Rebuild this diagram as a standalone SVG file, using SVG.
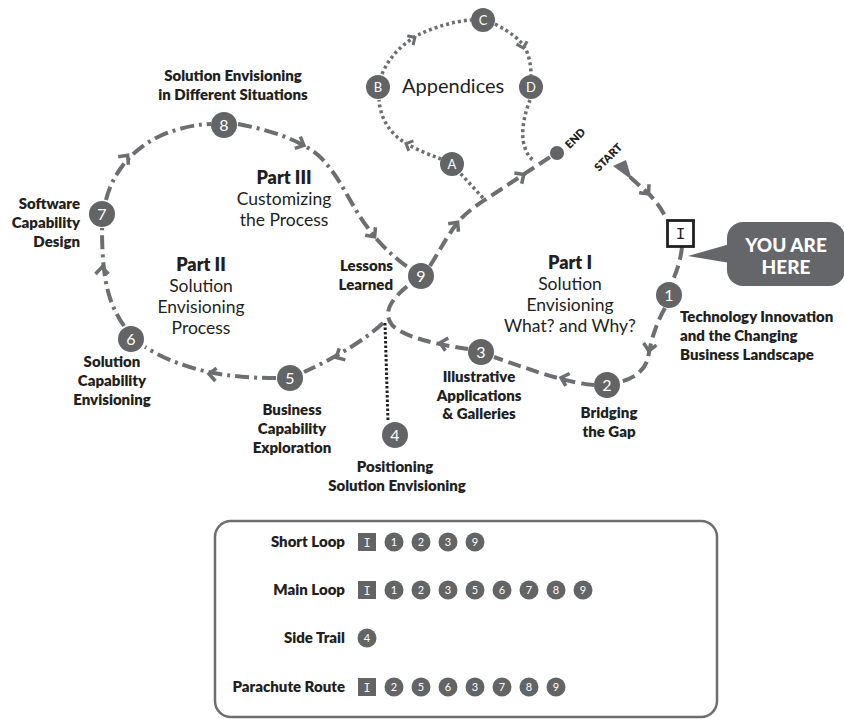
<svg xmlns="http://www.w3.org/2000/svg" xmlns:xlink="http://www.w3.org/1999/xlink" width="844" height="719" viewBox="0 0 844 719">
<style>
text{font-family:Lato,"Open Sans","Liberation Sans",sans-serif;fill:#231f20}
.lb{font-weight:800;font-size:15px}
.pt{font-weight:800;font-size:18px}
.pr{font-size:17.5px}
.num{font-size:16px;fill:#fff;text-anchor:middle}
.let{font-size:13px;fill:#fff;text-anchor:middle}
.lnum{font-size:11px;fill:#fff;text-anchor:middle}
.node{fill:#636466}
.dash{fill:none;stroke:#6d6e71;stroke-width:4;stroke-dasharray:13 6}
.dd{fill:none;stroke:#6d6e71;stroke-width:4;stroke-dasharray:14 5 3 5}
.dot{fill:none;stroke:#6d6e71;stroke-width:3.5;stroke-dasharray:3 3}
.vdot{fill:none;stroke:#231f20;stroke-width:3;stroke-dasharray:2.5 2}
.chev{fill:none;stroke:#6d6e71;stroke-width:3.5;stroke-linejoin:miter}
.chevs{fill:none;stroke:#6d6e71;stroke-width:3}
.mid{text-anchor:middle}
.end{text-anchor:end}
</style>
<defs>
<path id="chev" class="chev" d="M-6,-6.5 L1,0 L-6,6.5"/>
<path id="chevs" class="chevs" d="M-4.5,-5.5 L1,0 L-4.5,5.5"/>
</defs>

<g id="connectors">
  <path class="dash" d="M630,177 L648,193 Q660,205 667,220"/>
  <path class="dash" d="M682,247 Q680,265 672,282"/>
  <path class="dash" d="M665,308 C655,325 650,345 648,358 C645,370 635,378 620,382"/>
  <path class="dash" d="M594,385 C570,383 545,375 494,357"/>
  <path class="dash" d="M468,349 C440,345 405,338 392,325 C382,312 392,298 410,284"/>
  <path class="dash" d="M430,266 C440,250 447,236 458,222 C470,208 485,200 500,190 L550,157"/>
  <path class="dd" d="M383,323 C365,340 335,358 304,372"/>
  <path class="dd" d="M276,378 C240,378 190,375 145,347"/>
  <path class="dd" d="M124,326 C110,305 102,285 102,228"/>
  <path class="dd" d="M106,200 C112,175 130,150 160,136 C180,127 200,124 211,124"/>
  <path class="dd" d="M238,124 C270,130 300,140 318,155 C340,175 350,205 368,228 C380,245 395,258 409,268"/>
  <path class="vdot" d="M385,323 L388,421"/>
  <path class="dot" d="M483,198 L460,173"/>
  <path class="dot" d="M441,159 C425,153 405,145 395,135 C384,124 380,112 379,100"/>
  <path class="dot" d="M382,74 C390,55 405,42 420,34 C435,27 455,21 471,20"/>
  <path class="dot" d="M495,24 C510,32 522,40 527,52 C530,60 531,68 531,75"/>
  <path class="dot" d="M530,100 C524,115 520,135 525,148 C527,154 530,158 534,161"/>
  <polygon points="613,166 626,160 632,180" fill="#6d6e71"/>
  <use href="#chev" transform="translate(648,193) rotate(49)"/>
  <use href="#chev" transform="translate(649,350) rotate(100)"/>
  <use href="#chev" transform="translate(562,378) rotate(197)"/>
  <use href="#chev" transform="translate(441,343) rotate(193)"/>
  <use href="#chev" transform="translate(457,223) rotate(-52)"/>
  <use href="#chev" transform="translate(523,175) rotate(-34)"/>
  <use href="#chev" transform="translate(374,236) rotate(52)"/>
  <use href="#chev" transform="translate(303,145) rotate(25)"/>
  <use href="#chev" transform="translate(127,156) rotate(-52)"/>
  <use href="#chev" transform="translate(102,268) rotate(-90)"/>
  <use href="#chev" transform="translate(210,374) rotate(185)"/>
  <use href="#chev" transform="translate(337,357) rotate(152)"/>
  <use href="#chevs" transform="translate(407,144) rotate(-155)"/>
  <use href="#chevs" transform="translate(414,38) rotate(-32)"/>
  <use href="#chevs" transform="translate(523,47) rotate(75)"/>
</g>

<g id="start">
  <text style="font-weight:800;font-size:11px" text-anchor="middle" transform="translate(611,160) rotate(-45)">START</text>
</g>
<g id="end">
  <circle cx="557" cy="153" r="7" class="node"/>
  <text style="font-weight:800;font-size:11px" text-anchor="middle" transform="translate(578,141) rotate(-45)">END</text>
</g>

<g id="node-I">
  <rect x="667.5" y="220.5" width="26" height="26" fill="#fff" stroke="#231f20" stroke-width="2.8"/>
  <text x="680.5" y="239" style="font-family:'Liberation Mono',monospace;font-size:16px" text-anchor="middle">I</text>
</g>
<g id="you-are-here">
  <polygon points="688,256 730,244 730,263" fill="#656669"/>
  <rect x="727" y="222" width="118" height="64" rx="16" fill="#656669"/>
  <text x="786" y="252" class="mid" style="font-weight:900;font-size:19px;fill:#fff">YOU ARE</text>
  <text x="786" y="274" class="mid" style="font-weight:900;font-size:19px;fill:#fff">HERE</text>
</g>

<g id="node-1">
  <circle cx="669" cy="295" r="13" class="node"/>
  <text x="669" y="301" class="num">1</text>
  <text class="lb" x="680" y="322">Technology Innovation</text>
  <text class="lb" x="680" y="341">and the Changing</text>
  <text class="lb" x="680" y="360">Business Landscape</text>
</g>
<g id="node-2">
  <circle cx="607" cy="385" r="13" class="node"/>
  <text x="607" y="391" class="num">2</text>
  <text class="lb mid" x="609" y="418">Bridging</text>
  <text class="lb mid" x="609" y="437">the Gap</text>
</g>
<g id="node-3">
  <circle cx="481" cy="352" r="13" class="node"/>
  <text x="481" y="358" class="num">3</text>
  <text class="lb mid" x="479" y="382">Illustrative</text>
  <text class="lb mid" x="479" y="401">Applications</text>
  <text class="lb mid" x="479" y="419">&amp; Galleries</text>
</g>
<g id="node-4">
  <circle cx="395" cy="435" r="13" class="node"/>
  <text x="395" y="441" class="num">4</text>
  <text class="lb mid" x="395" y="472">Positioning</text>
  <text class="lb mid" x="397" y="491">Solution Envisioning</text>
</g>
<g id="node-5">
  <circle cx="290" cy="378" r="13" class="node"/>
  <text x="290" y="384" class="num">5</text>
  <text class="lb mid" x="292" y="415">Business</text>
  <text class="lb mid" x="292" y="434">Capability</text>
  <text class="lb mid" x="292" y="453">Exploration</text>
</g>
<g id="node-6">
  <circle cx="131" cy="339" r="13" class="node"/>
  <text x="131" y="345" class="num">6</text>
  <text class="lb mid" x="112" y="367">Solution</text>
  <text class="lb mid" x="112" y="386">Capability</text>
  <text class="lb mid" x="112" y="405">Envisioning</text>
</g>
<g id="node-7">
  <circle cx="102" cy="214" r="13" class="node"/>
  <text x="102" y="220" class="num">7</text>
  <text class="lb end" x="80" y="209">Software</text>
  <text class="lb end" x="80" y="228">Capability</text>
  <text class="lb end" x="80" y="247">Design</text>
</g>
<g id="node-8">
  <circle cx="224" cy="125" r="13" class="node"/>
  <text x="224" y="131" class="num">8</text>
  <text class="lb mid" x="233" y="81">Solution Envisioning</text>
  <text class="lb mid" x="233" y="100">in Different Situations</text>
</g>
<g id="node-9">
  <circle cx="421" cy="276" r="13" class="node"/>
  <text x="421" y="282" class="num">9</text>
  <text class="lb end" x="393" y="271">Lessons</text>
  <text class="lb end" x="393" y="290">Learned</text>
</g>

<g id="node-A">
  <circle cx="452" cy="164" r="12" class="node"/>
  <text x="452" y="169" class="let">A</text>
</g>
<g id="node-B">
  <circle cx="378" cy="87" r="12" class="node"/>
  <text x="378" y="92" class="let">B</text>
</g>
<g id="node-C">
  <circle cx="483" cy="20" r="12" class="node"/>
  <text x="483" y="25" class="let">C</text>
</g>
<g id="node-D">
  <circle cx="531" cy="87" r="12" class="node"/>
  <text x="531" y="92" class="let">D</text>
</g>
<g id="appendices-label">
  <text x="402" y="93" style="font-size:20px">Appendices</text>
</g>

<g id="part-1">
  <text class="pt mid" x="570" y="269">Part I</text>
  <text class="pr mid" x="570" y="290">Solution</text>
  <text class="pr mid" x="570" y="311">Envisioning</text>
  <text class="pr mid" x="570" y="332">What? and Why?</text>
</g>
<g id="part-2">
  <text class="pt mid" x="201" y="271">Part II</text>
  <text class="pr mid" x="201" y="292">Solution</text>
  <text class="pr mid" x="201" y="313">Envisioning</text>
  <text class="pr mid" x="201" y="334">Process</text>
</g>
<g id="part-3">
  <text class="pt mid" x="284" y="184">Part III</text>
  <text class="pr mid" x="284" y="205">Customizing</text>
  <text class="pr mid" x="284" y="226">the Process</text>
</g>

<g id="legend">
  <rect x="215" y="521" width="502" height="196" rx="16" fill="#fff" stroke="#6d6e71" stroke-width="2.5"/>
  <g id="legend-short">
    <text class="lb end" x="345" y="547">Short Loop</text>
    <rect x="358" y="533" width="18" height="18" fill="#636466"/>
    <text x="367" y="546.5" style="font-family:'Liberation Mono',monospace;font-size:12px;fill:#fff" text-anchor="middle">I</text>
    <circle cx="394" cy="542" r="9.5" class="node"/><text x="394" y="546" class="lnum">1</text>
    <circle cx="421" cy="542" r="9.5" class="node"/><text x="421" y="546" class="lnum">2</text>
    <circle cx="448" cy="542" r="9.5" class="node"/><text x="448" y="546" class="lnum">3</text>
    <circle cx="475" cy="542" r="9.5" class="node"/><text x="475" y="546" class="lnum">9</text>
  </g>
  <g id="legend-main">
    <text class="lb end" x="345" y="595">Main Loop</text>
    <rect x="358" y="581" width="18" height="18" fill="#636466"/>
    <text x="367" y="594.5" style="font-family:'Liberation Mono',monospace;font-size:12px;fill:#fff" text-anchor="middle">I</text>
    <circle cx="394" cy="590" r="9.5" class="node"/><text x="394" y="594" class="lnum">1</text>
    <circle cx="421" cy="590" r="9.5" class="node"/><text x="421" y="594" class="lnum">2</text>
    <circle cx="448" cy="590" r="9.5" class="node"/><text x="448" y="594" class="lnum">3</text>
    <circle cx="475" cy="590" r="9.5" class="node"/><text x="475" y="594" class="lnum">5</text>
    <circle cx="502" cy="590" r="9.5" class="node"/><text x="502" y="594" class="lnum">6</text>
    <circle cx="529" cy="590" r="9.5" class="node"/><text x="529" y="594" class="lnum">7</text>
    <circle cx="556" cy="590" r="9.5" class="node"/><text x="556" y="594" class="lnum">8</text>
    <circle cx="583" cy="590" r="9.5" class="node"/><text x="583" y="594" class="lnum">9</text>
  </g>
  <g id="legend-side">
    <text class="lb end" x="345" y="643">Side Trail</text>
    <circle cx="367" cy="638" r="9.5" class="node"/><text x="367" y="642" class="lnum">4</text>
  </g>
  <g id="legend-parachute">
    <text class="lb end" x="345" y="692">Parachute Route</text>
    <rect x="358" y="678" width="18" height="18" fill="#636466"/>
    <text x="367" y="691.5" style="font-family:'Liberation Mono',monospace;font-size:12px;fill:#fff" text-anchor="middle">I</text>
    <circle cx="394" cy="687" r="9.5" class="node"/><text x="394" y="691" class="lnum">2</text>
    <circle cx="421" cy="687" r="9.5" class="node"/><text x="421" y="691" class="lnum">5</text>
    <circle cx="448" cy="687" r="9.5" class="node"/><text x="448" y="691" class="lnum">6</text>
    <circle cx="475" cy="687" r="9.5" class="node"/><text x="475" y="691" class="lnum">3</text>
    <circle cx="502" cy="687" r="9.5" class="node"/><text x="502" y="691" class="lnum">7</text>
    <circle cx="529" cy="687" r="9.5" class="node"/><text x="529" y="691" class="lnum">8</text>
    <circle cx="556" cy="687" r="9.5" class="node"/><text x="556" y="691" class="lnum">9</text>
  </g>
</g>
</svg>
